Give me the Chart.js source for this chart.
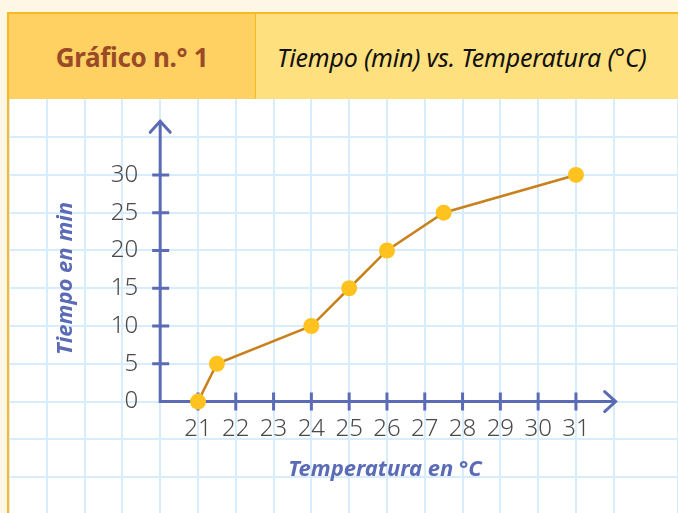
<!DOCTYPE html>
<html><head><meta charset="utf-8">
<script src="https://cdn.jsdelivr.net/npm/chart.js@4/dist/chart.umd.min.js"></script>
<style>
html,body{margin:0;padding:0;width:678px;height:513px;overflow:hidden;background:#FFF7E6;font-family:"Noto Sans",sans-serif;}
#hdr{position:absolute;left:7px;top:12px;width:671px;height:87px;border-top:2px solid #F7B924;border-left:2px solid #F7B924;box-sizing:border-box;background:#FFE07E;}
#hl{position:absolute;left:0;top:0;width:246px;height:85px;background:#FFD163;border-right:1px solid #F7B924;display:flex;align-items:center;justify-content:center;font-weight:700;font-size:26px;color:#9B4A28;letter-spacing:-0.3px;}
#hr{position:absolute;left:268px;top:0;height:85px;display:flex;align-items:center;font-style:italic;font-size:25px;color:#111;letter-spacing:-0.2px;}
#wrap{position:absolute;left:7px;top:99px;width:671px;height:414px;background:#fff;border-left:2px solid #F7B924;box-sizing:border-box;}
#wrap canvas{position:absolute;left:0;top:0;}
</style></head>
<body>
<div id="hdr"><div id="hl">Gráfico n.° 1</div><div id="hr">Tiempo (min) vs. Temperatura (°C)</div></div>
<div id="wrap"><canvas id="c" width="669" height="414"></canvas></div>
<script>
const temperatures = [21, 21.5, 24, 25, 26, 27.5, 31];
const times = [0, 5, 10, 15, 20, 25, 30];
const xTickLabels = [21, 22, 23, 24, 25, 26, 27, 28, 29, 30, 31];
const yTickLabels = [0, 5, 10, 15, 20, 25, 30];
const xTitle = "Temperatura en °C";
const yTitle = "Tiempo en min";

const AX = "#5B6BB5";
const axesPlugin = {
  id: 'axes',
  beforeDatasetsDraw(chart) {
    const ctx = chart.ctx, xs = chart.scales.x, ys = chart.scales.y;
    const x0 = xs.getPixelForValue(20), y0 = ys.getPixelForValue(0);
    const xEnd = xs.getPixelForValue(32.05), yEnd = ys.getPixelForValue(37.1);
    ctx.save();
    ctx.strokeStyle = AX; ctx.lineWidth = 3; ctx.lineCap = 'butt';
    ctx.beginPath();
    ctx.moveTo(x0, y0); ctx.lineTo(xEnd - 1, y0);
    ctx.moveTo(x0, y0 + 1.5); ctx.lineTo(x0, yEnd + 1);
    ctx.stroke();
    ctx.lineCap = 'round';
    ctx.beginPath();
    ctx.moveTo(xEnd - 11, y0 - 10); ctx.lineTo(xEnd, y0); ctx.lineTo(xEnd - 11, y0 + 10);
    ctx.moveTo(x0 - 10, yEnd + 11); ctx.lineTo(x0, yEnd); ctx.lineTo(x0 + 10, yEnd + 11);
    ctx.stroke();
    ctx.lineCap = 'butt';
    ctx.beginPath();
    xTickLabels.forEach(v => { const px = xs.getPixelForValue(v); ctx.moveTo(px, y0 - 9); ctx.lineTo(px, y0 + 9); });
    yTickLabels.forEach(v => { if (v === 0) return; const py = ys.getPixelForValue(v); ctx.moveTo(x0 - 8, py); ctx.lineTo(x0 + 9, py); });
    ctx.stroke();
    ctx.fillStyle = '#4a4a4a';
    ctx.font = '300 24px "Noto Sans",sans-serif';
    ctx.textAlign = 'center'; ctx.textBaseline = 'middle';
    xTickLabels.forEach(v => ctx.fillText(String(v), xs.getPixelForValue(v), y0 + 28));
    ctx.textAlign = 'right';
    yTickLabels.forEach(v => ctx.fillText(String(v), x0 - 22, ys.getPixelForValue(v)));
    ctx.fillStyle = AX;
    ctx.font = 'italic 700 22px "Noto Sans",sans-serif';
    ctx.textAlign = 'center';
    ctx.fillText(xTitle, xs.getPixelForValue(25.95), ys.getPixelForValue(-9));
    ctx.save();
    ctx.translate(xs.getPixelForValue(17.5), ys.getPixelForValue(16.3));
    ctx.rotate(-Math.PI / 2);
    ctx.fillText(yTitle, 0, 0);
    ctx.restore();
    ctx.restore();
  }
};

new Chart(document.getElementById('c'), {
  type: 'scatter',
  data: { datasets: [{
    data: temperatures.map((t, i) => ({ x: t, y: times[i] })),
    showLine: true, borderColor: '#C8811C', borderWidth: 2.5,
    pointRadius: 8, pointBackgroundColor: '#FFC21E', pointBorderWidth: 0, pointHoverRadius: 8
  }]},
  options: {
    responsive: false, animation: false, events: [],
    layout: { padding: 0, autoPadding: false },
    plugins: { legend: { display: false }, tooltip: { enabled: false } },
    scales: {
      x: { type: 'linear', min: 16, max: 33.7, afterFit(s){ s.height = 0; },
           ticks: { display: false, stepSize: 1 }, border: { display: false },
           grid: { color: '#D8EDFB', lineWidth: 2, drawTicks: false } },
      y: { type: 'linear', min: -14.75, max: 40.05, afterFit(s){ s.width = 0; },
           afterBuildTicks(s){ s.ticks = s.ticks.filter(t => Math.abs(t.value % 5) < 1e-6); },
           ticks: { display: false, stepSize: 5 }, border: { display: false },
           grid: { color: '#D8EDFB', lineWidth: 2, drawTicks: false } }
    }
  },
  plugins: [axesPlugin]
});
</script>
</body></html>
